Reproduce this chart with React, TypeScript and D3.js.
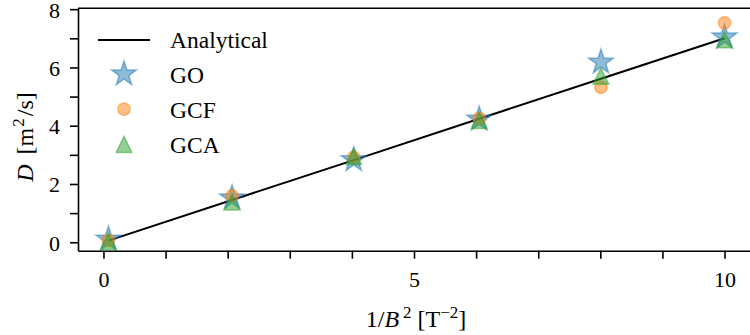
import React, { useEffect, useRef } from "react";
import * as d3 from "d3";

// 1/B^2 positions and measured D values
const invB2 = [0.08, 2.07, 4.03, 6.05, 8.01, 10.0];
const analytical = [0.056, 1.45, 2.82, 4.24, 5.61, 7.0];
const goVals = [0.1, 1.52, 2.83, 4.22, 6.18, 7.04];
const gcfVals = [0.06, 1.6, 2.92, 4.25, 5.32, 7.53];
const gcaVals = [0.03, 1.38, 2.94, 4.18, 5.7, 6.95];

const xTickVals = [0, 1, 2, 3, 4, 5, 6, 7, 8, 9, 10];
const xTickLabels = [0, 5, 10];
const yTickVals = [0, 1, 2, 3, 4, 5, 6, 7, 8];
const yTickLabels = [0, 2, 4, 6, 8];

const FONT = "'Times New Roman', 'Liberation Serif', 'DejaVu Serif', Times, serif";

const App = () => {
  const svgRef = useRef<SVGSVGElement>(null);

  useEffect(() => {
    const svg = d3.select(svgRef.current);
    svg.selectAll("*").remove();

    const width = 750;
    const height = 335;
    const left = 78;
    const right = 750;
    const top = 8.3;
    const bottom = 250.7;

    const x = d3.scaleLinear().domain([-0.41, 10.41]).range([left, right]);
    const y = d3.scaleLinear().domain([-0.29, 8.03]).range([bottom, top]);

    svg.attr("width", width).attr("height", height);

    // analytical line
    const line = d3
      .line<number>()
      .x((_, i) => x(invB2[i]))
      .y((d) => y(d));
    svg
      .append("path")
      .datum(analytical)
      .attr("d", line)
      .attr("fill", "none")
      .attr("stroke", "#000")
      .attr("stroke-width", 2);

    const starPath = d3.symbol().type(d3.symbolStar).size(190)();
    const circlePath = d3.symbol().type(d3.symbolCircle).size(Math.PI * 38)();
    const triPath = "M0,-8L-7.8,8L7.8,8Z";

    const series = [
      { name: "GO", vals: goVals, color: "#1f77b4", path: starPath },
      { name: "GCF", vals: gcfVals, color: "#ff7f0e", path: circlePath },
      { name: "GCA", vals: gcaVals, color: "#2ca02c", path: triPath },
    ];

    series.forEach((s) => {
      svg
        .append("g")
        .selectAll("path")
        .data(s.vals)
        .enter()
        .append("path")
        .attr("d", s.path)
        .attr("transform", (d, i) => `translate(${x(invB2[i])},${y(d)})`)
        .attr("fill", s.color)
        .attr("fill-opacity", 0.5)
        .attr("stroke", s.color)
        .attr("stroke-opacity", 0.5)
        .attr("stroke-width", 1.5);
    });

    // x axis
    const xAxis = svg
      .append("g")
      .attr("transform", `translate(0,${bottom})`)
      .call(
        d3
          .axisBottom(x)
          .tickValues(xTickVals)
          .tickSize(8)
          .tickSizeOuter(0)
          .tickFormat((d) => (xTickLabels.includes(d as number) ? String(d) : ""))
      );
    xAxis.selectAll("text").attr("y", 36.5).attr("dy", 0);

    // y axis
    const yAxis = svg
      .append("g")
      .attr("transform", `translate(${left},0)`)
      .call(
        d3
          .axisLeft(y)
          .tickValues(yTickVals)
          .tickSize(8)
          .tickSizeOuter(0)
          .tickPadding(10)
          .tickFormat((d) => (yTickLabels.includes(d as number) ? String(d) : ""))
      );
    yAxis.selectAll("text").attr("dy", "0.36em");

    [xAxis, yAxis].forEach((a) => {
      a.attr("font-family", FONT).attr("font-size", 22);
      a.select(".domain").attr("stroke-width", 1.6);
      a.selectAll(".tick line").attr("stroke-width", 1.6);
      a.selectAll("text").attr("fill", "#000");
    });

    // top spine
    svg
      .append("line")
      .attr("x1", left)
      .attr("x2", right)
      .attr("y1", top)
      .attr("y2", top)
      .attr("stroke", "#000")
      .attr("stroke-width", 1.6);

    // axis labels
    const xl = svg
      .append("text")
      .attr("x", 416)
      .attr("y", 327)
      .attr("text-anchor", "middle")
      .attr("font-family", FONT)
      .attr("font-size", 24);
    xl.append("tspan").text("1/");
    xl.append("tspan").attr("font-style", "italic").text("B");
    xl.append("tspan").attr("dx", 4).attr("dy", -9).attr("font-size", 17).text("2");
    xl.append("tspan").attr("dy", 9).text(" [T");
    xl.append("tspan").attr("dy", -9).attr("font-size", 17).text("−2");
    xl.append("tspan").attr("dy", 9).text("]");

    const yl = svg
      .append("text")
      .attr("transform", `translate(33,137) rotate(-90)`)
      .attr("text-anchor", "middle")
      .attr("font-family", FONT)
      .attr("font-size", 24);
    yl.append("tspan").attr("font-style", "italic").text("D");
    yl.append("tspan").attr("dx", 4).text(" [m");
    yl.append("tspan").attr("dx", 1).attr("dy", -9).attr("font-size", 17).text("2");
    yl.append("tspan").attr("dx", 2).attr("dy", 9).text("/s]");

    // legend
    const legend = svg.append("g").attr("font-family", FONT).attr("font-size", 23.5);
    legend
      .append("line")
      .attr("x1", 98)
      .attr("x2", 150)
      .attr("y1", 40)
      .attr("y2", 40)
      .attr("stroke", "#000")
      .attr("stroke-width", 2);
    const legendRows = [{ name: "Analytical", cy: 40 }].concat(
      series.map((s, i) => ({ name: s.name, cy: 74 + i * 35.2 }))
    );
    series.forEach((s, i) => {
      legend
        .append("path")
        .attr("d", s.path)
        .attr("transform", `translate(124,${legendRows[i + 1].cy})`)
        .attr("fill", s.color)
        .attr("fill-opacity", 0.5)
        .attr("stroke", s.color)
        .attr("stroke-opacity", 0.5)
        .attr("stroke-width", 1.5);
    });
    legend
      .selectAll("text")
      .data(legendRows)
      .enter()
      .append("text")
      .attr("x", 170)
      .attr("y", (d, i) => 47.5 + i * 35.2)
      .text((d) => d.name);
  }, []);

  return (
    <div style={{ position: "absolute", left: 0, top: 0 }}>
      <svg ref={svgRef}></svg>
    </div>
  );
};

export default App;
